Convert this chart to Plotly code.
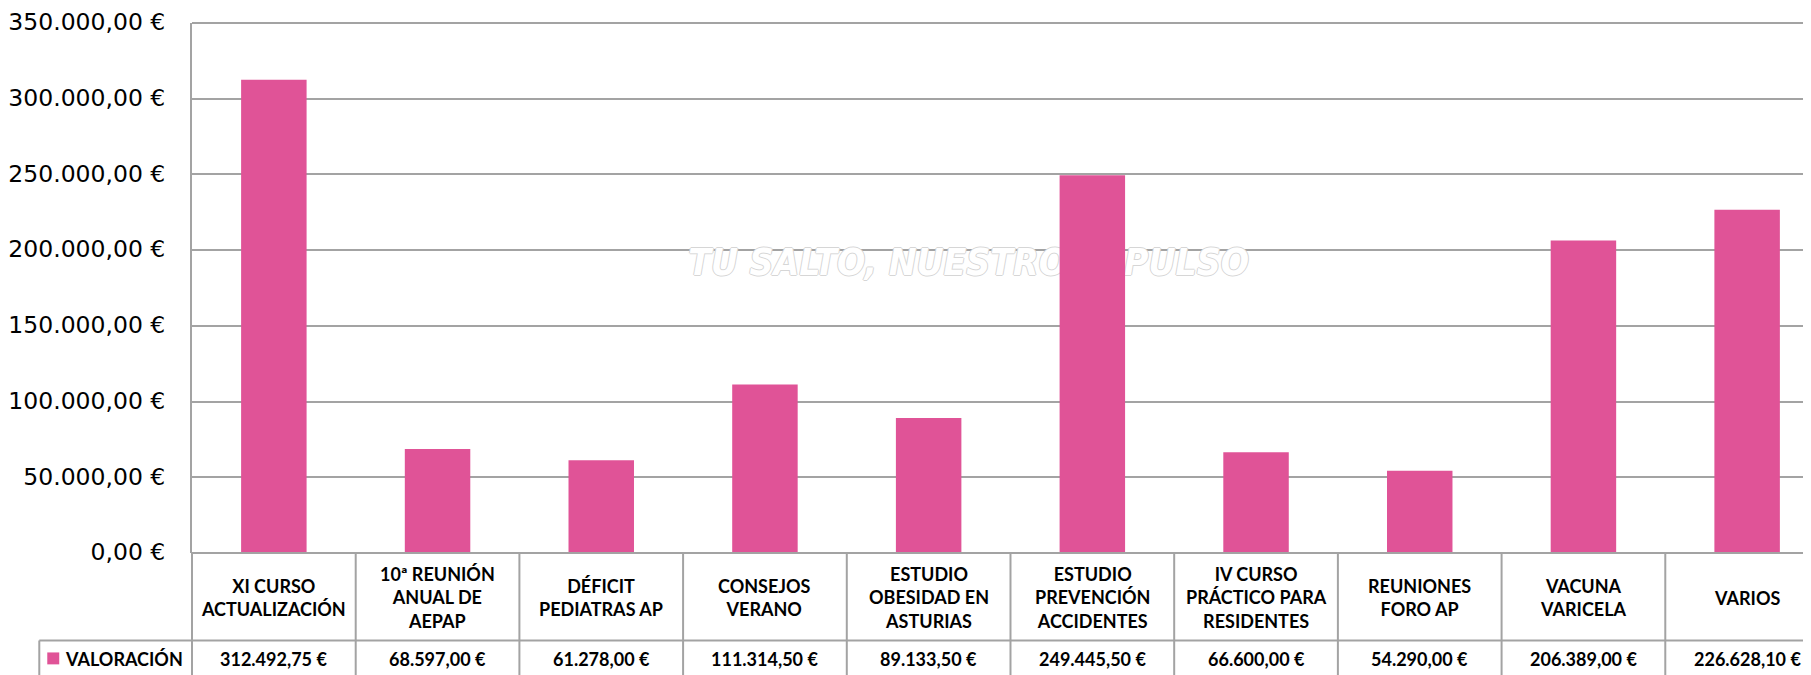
import plotly.graph_objects as go

# ---- data ----
categories = [
    "XI CURSO ACTUALIZACIÓN",
    "10ª REUNIÓN ANUAL DE AEPAP",
    "DÉFICIT PEDIATRAS AP",
    "CONSEJOS VERANO",
    "ESTUDIO OBESIDAD EN ASTURIAS",
    "ESTUDIO PREVENCIÓN ACCIDENTES",
    "IV CURSO PRÁCTICO PARA RESIDENTES",
    "REUNIONES FORO AP",
    "VACUNA VARICELA",
    "VARIOS",
]
category_labels = [
    "XI CURSO<br>ACTUALIZACIÓN",
    "10ª REUNIÓN<br>ANUAL DE<br>AEPAP",
    "DÉFICIT<br>PEDIATRAS AP",
    "CONSEJOS<br>VERANO",
    "ESTUDIO<br>OBESIDAD EN<br>ASTURIAS",
    "ESTUDIO<br>PREVENCIÓN<br>ACCIDENTES",
    "IV CURSO<br>PRÁCTICO PARA<br>RESIDENTES",
    "REUNIONES<br>FORO AP",
    "VACUNA<br>VARICELA",
    "VARIOS",
]
series_name = "VALORACIÓN"
valoracion = [312492.75, 68597.00, 61278.00, 111314.50, 89133.50,
              249445.50, 66600.00, 54290.00, 206389.00, 226628.10]
ytick_values = [0, 50000, 100000, 150000, 200000, 250000, 300000, 350000]
ytick_labels = ["0,00 €", "50.000,00 €", "100.000,00 €", "150.000,00 €",
                "200.000,00 €", "250.000,00 €", "300.000,00 €", "350.000,00 €"]
watermark_text = "TU SALTO, NUESTRO IMPULSO"


def eur(v):
    s = f"{v:,.2f}"
    return s.replace(",", "X").replace(".", ",").replace("X", ".") + " €"


# ---- geometry (screen pixels; page body adds an 8px offset) ----
OFF = 8
W, H = 1811, 675
L, T, B = 189 - OFF, 20 - OFF, 553 - OFF   # plot area in figure pixels
CELL = 164                                  # width of one category column
PW = W - L
PH = B - T
PINK = "#E05397"
GRID = "#A3A3A3"

n = len(categories)
xs = list(range(n))
x_max = PW / CELL - 0.5


def px_x(sx):   # screen x -> paper
    return (sx - OFF - L) / PW


def px_y(sy):   # screen y -> paper
    return (B - (sy - OFF)) / PH


fig = go.Figure()

# faint watermark, beneath the bars (main subplot)
wm_x = (967 - OFF - L) / CELL - 0.5
wm_y = (B - (264 - OFF)) / PH * ytick_values[-1]
fig.add_trace(go.Scatter(
    x=[wm_x], y=[wm_y], mode="text", text=[watermark_text],
    textfont=dict(family="DejaVu Sans Condensed", size=37, color="white",
                  weight="bold", style="italic",
                  shadow="1px 0 0 #d6d6d6, -1px 0 0 #d6d6d6, 0 1px 0 #d6d6d6, 0 -1px 0 #d6d6d6"),
    hoverinfo="skip", showlegend=False, xaxis="x", yaxis="y",
))

# bars on an overlaid subplot so they sit above the watermark
fig.add_trace(go.Bar(
    x=xs, y=valoracion, name=series_name, marker_color=PINK,
    marker_line_width=0, width=0.40, showlegend=False,
    hovertext=categories, xaxis="x2", yaxis="y2",
))

shapes = []
line = dict(color=GRID, width=2)
# top gridline (350.000)
shapes.append(dict(type="line", xref="paper", yref="paper",
                   x0=0, x1=1.0, y0=1, y1=1, line=line, layer="below"))
# top line of category row (bottom of plot)
shapes.append(dict(type="line", xref="paper", yref="paper",
                   x0=0, x1=1.0, y0=0, y1=0, line=line))
# top line of value row
shapes.append(dict(type="line", xref="paper", yref="paper",
                   x0=px_x(36), x1=1.0, y0=px_y(641), y1=px_y(641), line=line))
# left border of table (continuation of axis)
shapes.append(dict(type="line", xref="paper", yref="paper",
                   x0=0, x1=0, y0=0, y1=px_y(H + 20), line=line))
# legend cell left border
shapes.append(dict(type="line", xref="paper", yref="paper",
                   x0=px_x(36), x1=px_x(36), y0=px_y(641), y1=px_y(H + 20), line=line))
# column dividers
for i in range(1, n):
    shapes.append(dict(type="line", xref="x", yref="paper",
                       x0=i - 0.5, x1=i - 0.5, y0=0, y1=px_y(H + 20), line=line))
# legend swatch
shapes.append(dict(type="rect", xref="paper", yref="paper",
                   x0=px_x(44), x1=px_x(56), y0=px_y(665), y1=px_y(653),
                   fillcolor=PINK, line=dict(width=0)))

annotations = []
cat_font = dict(family="Lato", size=18, color="black", weight="bold")
for i, lab in enumerate(category_labels):
    annotations.append(dict(x=i, xref="x", y=px_y(598), yref="paper", text=lab,
                            showarrow=False, font=cat_font, align="center",
                            xanchor="center", yanchor="middle"))
    annotations.append(dict(x=i, xref="x", y=px_y(660), yref="paper", text=eur(valoracion[i]),
                            showarrow=False, font=cat_font,
                            xanchor="center", yanchor="middle"))
annotations.append(dict(x=px_x(60), xref="paper", y=px_y(660), yref="paper", text=series_name,
                        showarrow=False, font=cat_font, xanchor="left", yanchor="middle"))

yr = [0, ytick_values[-1]]
fig.update_layout(
    width=W, height=H,
    margin=dict(l=L, r=0, t=T, b=H - B, pad=0),
    paper_bgcolor="white", plot_bgcolor="white",
    bargap=0.6,
    shapes=shapes, annotations=annotations,
    xaxis=dict(range=[-0.5, x_max], showticklabels=False, showgrid=False,
               zeroline=False, showline=False, fixedrange=True),
    xaxis2=dict(range=[-0.5, x_max], overlaying="x", showticklabels=False, showgrid=False,
                zeroline=False, showline=False, fixedrange=True),
    yaxis=dict(range=yr, tickvals=ytick_values, ticktext=ytick_labels,
               showgrid=True, gridcolor=GRID, gridwidth=2, zeroline=False,
               showline=True, linecolor=GRID, linewidth=2, ticks="",
               ticklabelstandoff=20, ticklabeloverflow="allow", ticklabelshift=-1,
               tickfont=dict(family="DejaVu Sans", size=23.5, color="black")),
    yaxis2=dict(range=yr, overlaying="y", showticklabels=False, showgrid=False,
                zeroline=False, showline=False),
)

fig.write_html("out.html")
